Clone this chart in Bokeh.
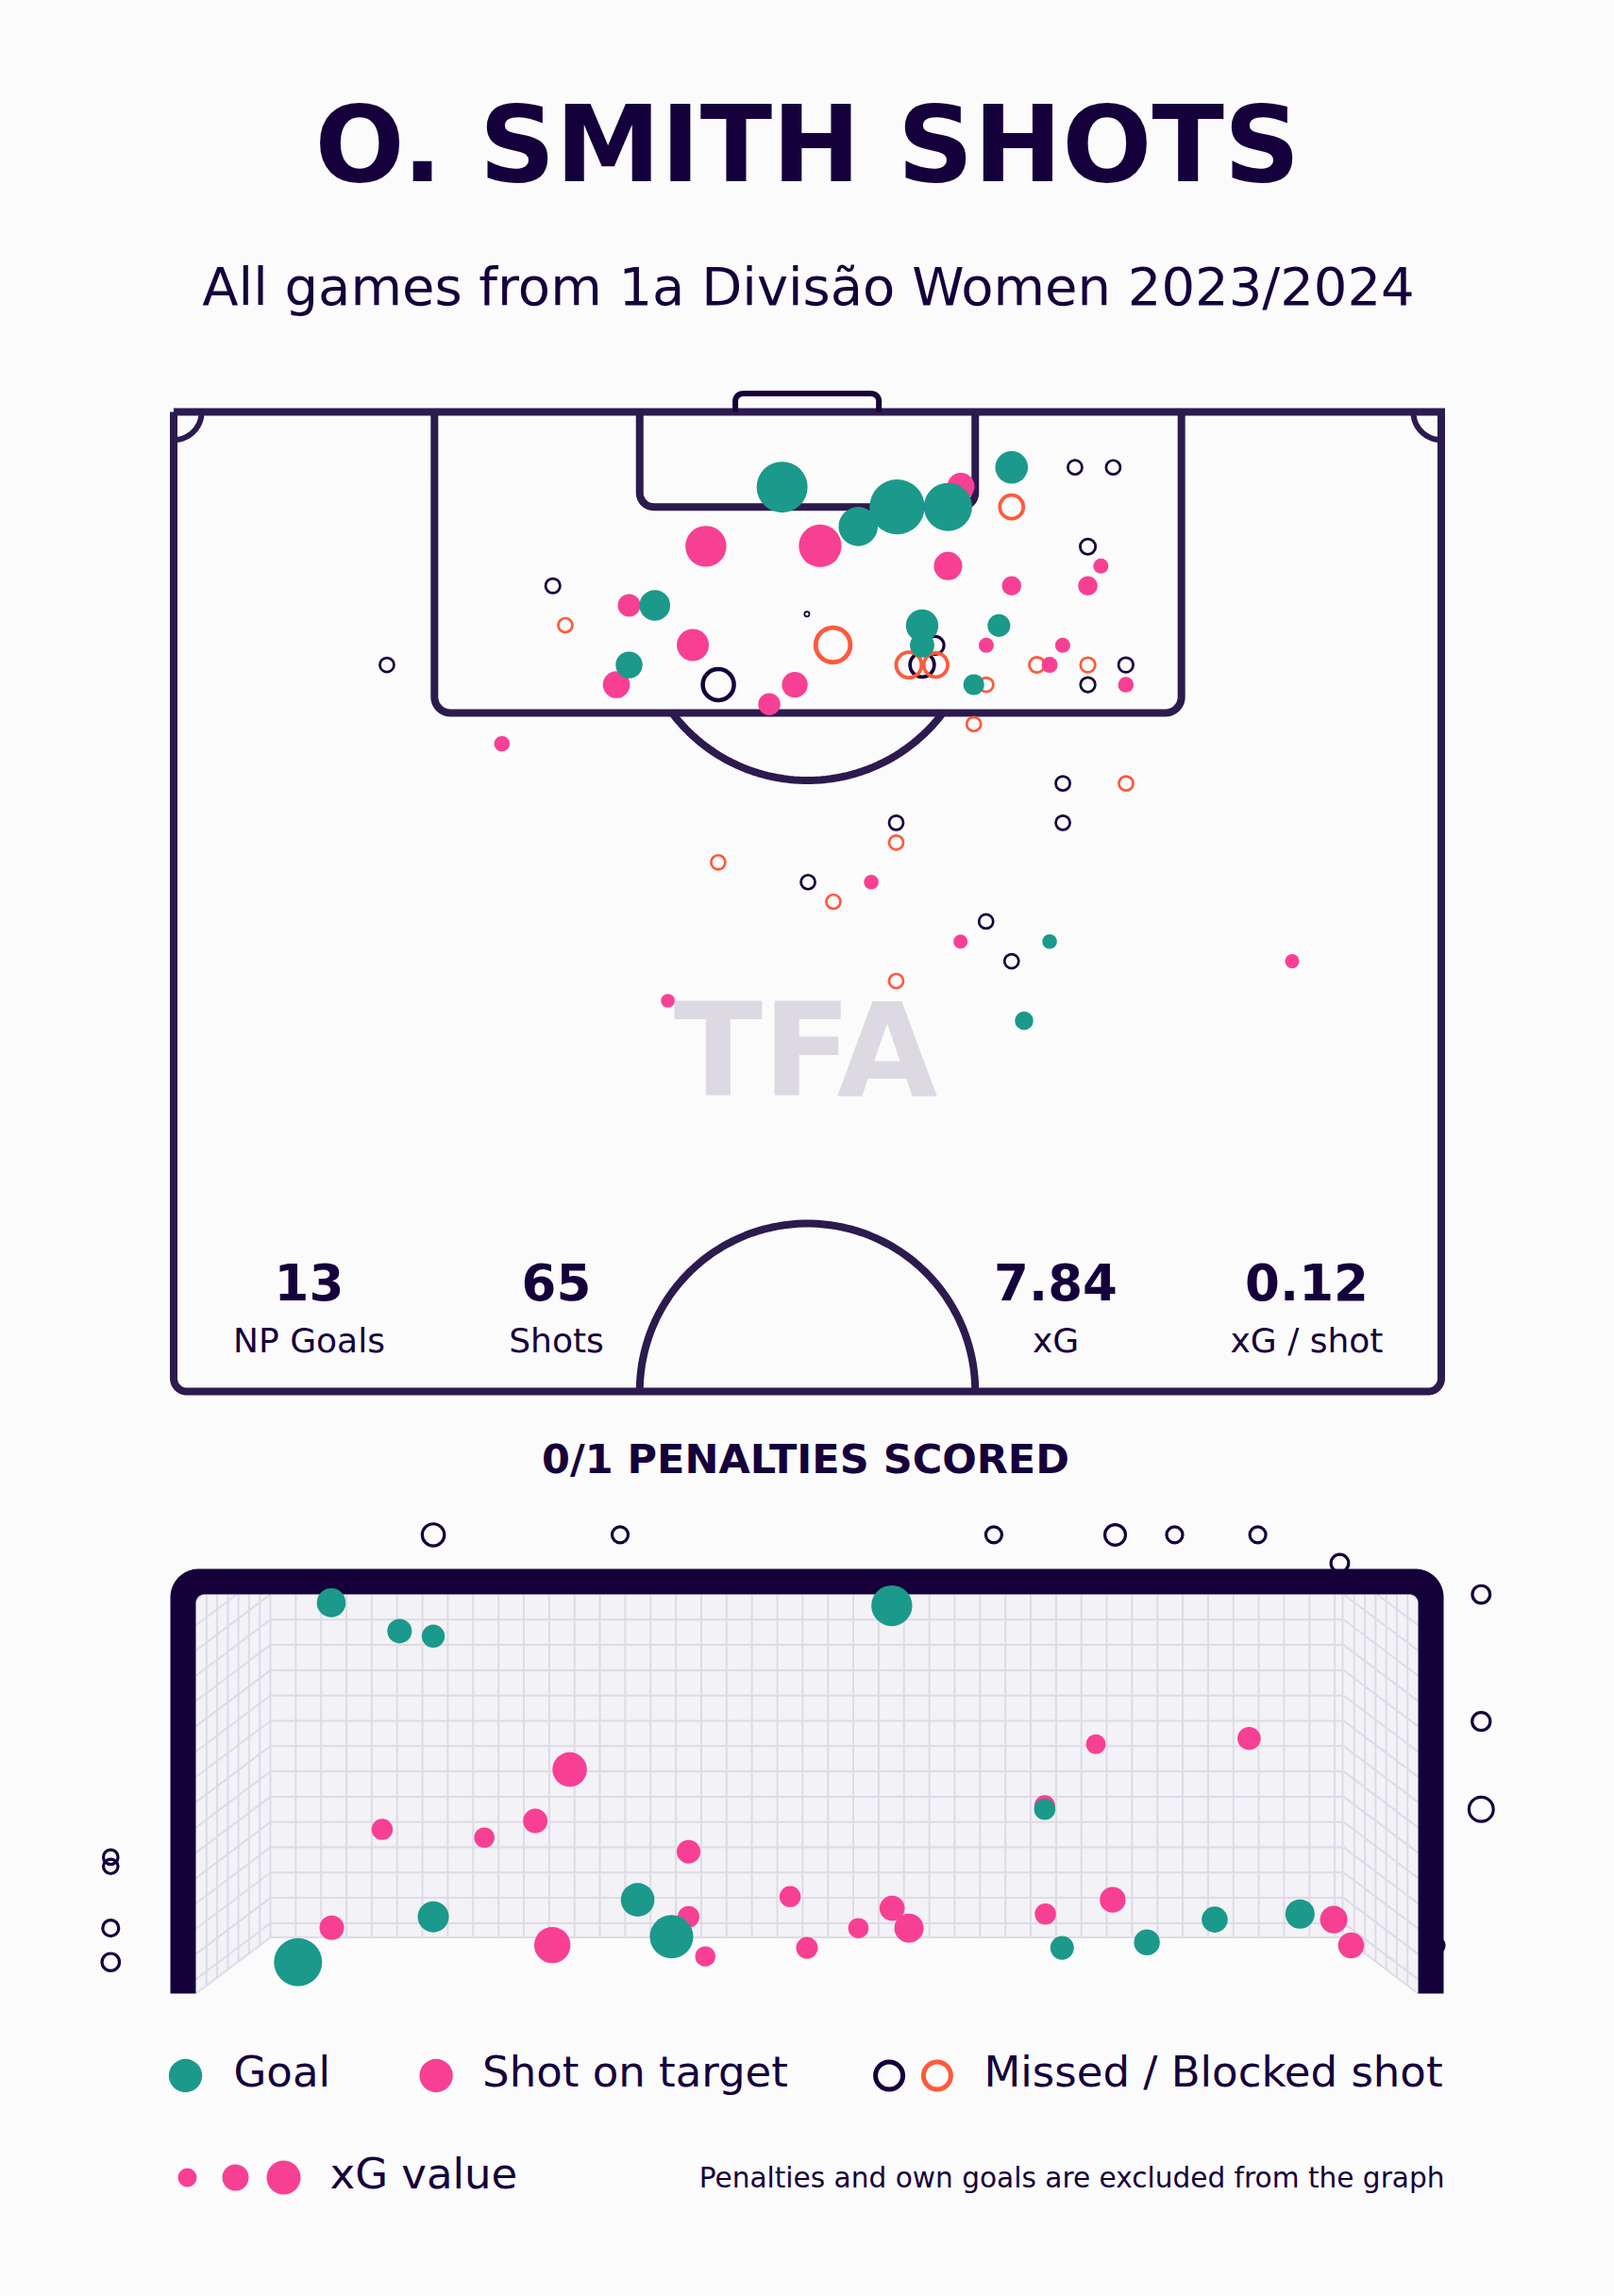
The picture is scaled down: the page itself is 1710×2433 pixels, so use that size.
import numpy as np
from bokeh.plotting import figure
from bokeh.models import Range1d, ColumnDataSource
from bokeh.layouts import column
from bokeh.embed import file_html
from bokeh.resources import INLINE
from bokeh.core.properties import value

# ---------------- texts ----------------
title_text = "O. SMITH SHOTS"
subtitle_text = "All games from 1a Divisão Women 2023/2024"
stat_values = ["13", "65", "7.84", "0.12"]
stat_names = ["NP Goals", "Shots", "xG", "xG / shot"]
penalty_text = "0/1 PENALTIES SCORED"
legend_names = ["Goal", "Shot on target", "Missed / Blocked shot"]
xg_legend_label = "xG value"
footnote = "Penalties and own goals are excluded from the graph"
watermark = "TFA"

# ---------------- pitch shots (metres from left touchline / from goal line) ----------------
shot_x = [32.64, 28.55, 34.68, 20.34, 21.01, 11.44, 24.43, 25.81, 33.97, 27.85,
          35.37, 24.43, 23.75, 29.22, 31.95, 33.32, 17.61, 44.95, 48.35, 50.40,
          42.23, 36.72, 38.81, 41.54, 44.95, 49.04, 49.74, 41.54, 44.95, 49.04,
          40.15, 40.15, 40.84, 39.44, 40.15, 40.88, 44.27, 43.59, 47.69, 46.31,
          46.99, 49.04, 51.08, 42.92, 43.59, 49.04, 51.08, 42.92, 47.70, 51.09,
          38.76, 47.70, 38.76, 29.21, 34.03, 37.42, 35.39, 43.58, 42.21, 46.99,
          44.95, 60.00, 38.76, 26.51, 45.62]
shot_y = [4.03, 7.20, 7.18, 9.32, 11.43, 13.56, 10.37, 10.37, 10.84, 12.49,
          12.49, 13.56, 14.62, 14.62, 15.67, 14.62, 17.79, 2.97, 2.97, 2.97,
          4.00, 6.14, 5.09, 5.09, 5.09, 7.22, 8.26, 8.26, 9.32, 9.32,
          11.45, 12.51, 12.51, 13.56, 13.56, 13.56, 11.45, 12.51, 12.51, 13.56,
          13.56, 13.56, 13.56, 14.62, 14.62, 14.62, 14.62, 16.73, 19.91, 19.91,
          22.02, 22.02, 23.08, 24.14, 25.20, 25.20, 26.25, 27.31, 28.39, 28.39,
          29.44, 29.44, 30.50, 31.56, 32.63]
shot_xg = [0.54, 0.35, 0.38, 0.044, 0.042, 0.042, 0.107, 0.197, 0.005, 0.215,
           0.249, 0.150, 0.152, 0.202, 0.102, 0.139, 0.051, 0.222, 0.042, 0.042,
           0.156, 0.321, 0.633, 0.483, 0.116, 0.049, 0.048, 0.167, 0.079, 0.079,
           0.220, 0.125, 0.067, 0.135, 0.122, 0.120, 0.107, 0.048, 0.048, 0.049,
           0.054, 0.045, 0.045, 0.090, 0.042, 0.045, 0.051, 0.042, 0.042, 0.042,
           0.042, 0.042, 0.042, 0.042, 0.042, 0.045, 0.042, 0.042, 0.042, 0.045,
           0.042, 0.042, 0.042, 0.040, 0.071]
shot_result = ["goal", "saved", "saved", "missed", "blocked", "missed", "saved", "goal", "missed", "saved",
               "blocked", "goal", "saved", "missed", "saved", "saved", "saved", "goal", "missed", "missed",
               "saved", "goal", "goal", "goal", "blocked", "missed", "saved", "saved", "saved", "saved",
               "goal", "goal", "missed", "blocked", "missed", "blocked", "goal", "saved", "saved", "blocked",
               "saved", "blocked", "missed", "goal", "blocked", "missed", "saved", "blocked", "missed", "blocked",
               "missed", "missed", "blocked", "blocked", "missed", "saved", "blocked", "missed", "saved", "goal",
               "missed", "saved", "blocked", "saved", "goal"]

# ---------------- goal-mouth view (metres from left post / height) ----------------
goal_x = [1.422, 2.541, 4.779, 5.506, 5.862, 6.360, 6.851, 7.698, -0.510, -0.510,
          -0.510, -0.510, 7.698, 7.698, 7.428,
          0.811, 1.220, 1.422, 4.168, 2.646, 1.422, 0.612, 2.849, 5.084, 5.188,
          5.696, 6.102, 6.613,
          2.239, 1.116, 1.728, 2.033, 2.951, 3.559, 0.814, 2.135, 2.951, 3.051,
          3.660, 5.390, 6.308, 5.084, 3.968, 4.170, 4.271, 5.088, 5.491, 6.815, 6.919]
goal_z = [2.803, 2.803, 2.803, 2.803, 2.803, 2.803, 2.630, 2.439, 0.834, 0.777,
          0.400, 0.192, 1.663, 1.126, 0.294,
          2.388, 2.215, 2.184, 2.370, 0.573, 0.469, 0.192, 0.348, 1.126, 0.279,
          0.313, 0.452, 0.486,
          1.369, 1.003, 0.953, 1.055, 0.867, 0.592, 0.402, 0.296, 0.469, 0.227,
          0.279, 1.524, 1.559, 1.149, 0.400, 0.521, 0.400, 0.486, 0.573, 0.452, 0.294]
goal_xg = [0.040, 0.004, 0.004, 0.028, 0.004, 0.004, 0.010, 0.010, 0.001, 0.001,
           0.004, 0.009, 0.012, 0.063, 0.004,
           0.125, 0.065, 0.049, 0.391, 0.211, 0.163, 0.620, 0.464, 0.033, 0.055,
           0.081, 0.084, 0.131,
           0.231, 0.033, 0.026, 0.065, 0.055, 0.033, 0.065, 0.270, 0.037, 0.025,
           0.037, 0.022, 0.051, 0.029, 0.026, 0.072, 0.131, 0.033, 0.081, 0.102, 0.084]
goal_result = ["missed"] * 15 + ["goal"] * 13 + ["saved"] * 21

# ---------------- style ----------------
W = 1710
BG = "#fbfbfc"
INK = "#16003b"
LINE = "#2d1a4e"
FRAME = "#160039"
TEAL = "#1b998b"
PINK = "#f74093"
ORANGE = "#fd5a3b"
NET_BG = "#f3f2f6"
NET_LINE = "#dedbe5"
WM = "#dcd9e3"
SANS = value("DejaVu Sans")

HEAD_H, PITCH_H, GOAL_H, LEG_H = 400, 1100, 640, 293
MID = 0.36  # text is placed by its vertical centre: shift from baseline in em


def base_fig(h, xr, yr):
    p = figure(width=W, height=h, x_range=xr, y_range=yr, output_backend="svg",
               toolbar_location=None, x_axis_location=None, y_axis_location=None,
               min_border=0, background_fill_color=BG, border_fill_color=BG,
               outline_line_color=None)
    p.grid.visible = False
    return p


def arc(cx, cy, r, a0, a1, n=32):
    t = np.linspace(a0, a1, n)
    return list(cx + r * np.cos(t)), list(cy + r * np.sin(t))


def txt(p, xs, ys, texts, fs, align="center", bold=False, color=INK):
    p.text(x=xs, y=ys, text=texts, text_font=SANS, text_font_style="bold" if bold else "normal",
           text_font_size=f"{fs}px", text_color=color, text_align=align, text_baseline="middle")


# ---------------- header ----------------
head = base_fig(HEAD_H, Range1d(0, W), Range1d(HEAD_H, 0))
txt(head, [855], [193 - MID * 112], [title_text], 112, bold=True)
txt(head, [856], [323 - MID * 56], [subtitle_text], 56)

# ---------------- pitch ----------------
P_X0, P_SX, P_Y0, P_SY, P_TOP = 183.5, 19.75, 436.0, 19.771, 400.0


def pmx(px):
    return (px - P_X0) / P_SX


def pmy(py):
    return (py - P_Y0) / P_SY


pitch = base_fig(PITCH_H, Range1d(pmx(0), pmx(W)), Range1d(pmy(P_TOP + PITCH_H), pmy(P_TOP)))
L, D = 68.0, 52.5

rc = 0.7
xs, ys = [0.0], [0.0]
ax, ay = arc(rc, D - rc, rc, np.pi, 0.5 * np.pi); xs += ax; ys += ay
ax, ay = arc(L - rc, D - rc, rc, 0.5 * np.pi, 0.0); xs += ax; ys += ay
xs += [L, 0.0]; ys += [0.0, 0.0]
pitch.line(xs, ys, line_width=8, line_color=LINE, line_join="miter")


def box(x0, x1, depth, r):
    bx, by = [x0], [0.0]
    ax, ay = arc(x0 + r, depth - r, r, np.pi, 0.5 * np.pi); bx += ax; by += ay
    ax, ay = arc(x1 - r, depth - r, r, 0.5 * np.pi, 0.0); bx += ax; by += ay
    bx += [x1]; by += [0.0]
    return bx, by


bx, by = box(13.99, 54.06, 16.13, 0.85)
pitch.line(bx, by, line_width=8, line_color=LINE, line_join="round")
bx, by = box(25.0, 43.0, 5.09, 0.75)
pitch.line(bx, by, line_width=8, line_color=LINE, line_join="round")
gr = 0.4
gx_, gy_ = [30.13], [0.0]
ax, ay = arc(30.13 + gr, -0.98 + gr, gr, np.pi, 1.5 * np.pi); gx_ += ax; gy_ += ay
ax, ay = arc(37.83 - gr, -0.98 + gr, gr, 1.5 * np.pi, 2 * np.pi); gx_ += ax; gy_ += ay
gx_ += [37.83]; gy_ += [0.0]
pitch.line(gx_, gy_, line_width=6, line_color=FRAME)
a0 = np.arcsin((16.13 - 10.65) / 9.1)
ax, ay = arc(34.0, 10.65, 9.1, a0, np.pi - a0, 60)
pitch.line(ax, ay, line_width=8, line_color=LINE)
ax, ay = arc(34.0, D, 9.0, np.pi, 2 * np.pi, 80)
pitch.line(ax, ay, line_width=8, line_color=LINE)
ax, ay = arc(0.0, 0.0, 1.5, 0.0, 0.5 * np.pi)
pitch.line(ax, ay, line_width=6, line_color=LINE)
ax, ay = arc(L, 0.0, 1.5, 0.5 * np.pi, np.pi)
pitch.line(ax, ay, line_width=6, line_color=LINE)

txt(pitch, [pmx(853)], [pmy(1163 - MID * 138)], [watermark], 138, bold=True, color=WM)

stat_cx = [327, 589, 1118, 1384]
txt(pitch, [pmx(c) for c in stat_cx], [pmy(1377 - MID * 53)] * 4, stat_values, 53, bold=True)
txt(pitch, [pmx(c) for c in stat_cx], [pmy(1433 - MID * 36)] * 4, stat_names, 36)

K_P = 36.7
sx = np.array(shot_x); sy = np.array(shot_y); sxg = np.array(shot_xg); sres = np.array(shot_result)
style = {"missed": (None, INK), "blocked": (None, ORANGE), "saved": (PINK, None), "goal": (TEAL, None)}
for res in ["missed", "blocked", "saved", "goal"]:
    m = sres == res
    r = K_P * np.sqrt(sxg[m])
    src = ColumnDataSource(dict(x=sx[m], y=sy[m], size=2 * r, lw=1.2 + 0.2 * r))
    fill, line = style[res]
    if fill is None:
        pitch.scatter("x", "y", size="size", source=src, marker="circle", fill_color=None,
                      line_color=line, line_width="lw")
    else:
        pitch.scatter("x", "y", size="size", source=src, marker="circle", fill_color=fill,
                      line_color=None)

# ---------------- goal mouth ----------------
G_X0, G_SX, G_Z0, G_SZ, G_TOP = 207.0, 176.9, 2112.0, 173.4, 1500.0


def gmx(px):
    return (px - G_X0) / G_SX


def gmz(py):
    return (G_Z0 - py) / G_SZ


goal = base_fig(GOAL_H, Range1d(gmx(0), gmx(W)), Range1d(gmz(G_TOP + GOAL_H), gmz(G_TOP)))

net_px = [(207, 1689), (1502, 1689), (1502, 2112), (1422, 2052.5), (286, 2052.5), (207, 2112)]
goal.patch([gmx(a) for a, b in net_px], [gmz(b) for a, b in net_px], fill_color=NET_BG, line_color=None)

segs = []
STEP = 26.8
BACK_L, BACK_R, TOPY, BACK_B = 286.0, 1422.0, 1689.0, 2052.5
k = 1
while TOPY + k * STEP < BACK_B - 3:
    segs.append([(BACK_L, TOPY + k * STEP), (BACK_R, TOPY + k * STEP)])
    k += 1
segs.append([(BACK_L, BACK_B), (BACK_R, BACK_B)])
xv = BACK_L
while xv < BACK_R - 4:
    segs.append([(xv, TOPY), (xv, BACK_B)])
    xv += 26.85
segs.append([(BACK_R, TOPY), (BACK_R, BACK_B)])
DX, DY = 79.0, 59.5
side = []
for kk in range(1, 7):
    x = 207 + kk * DX / 7
    side.append([(x, TOPY), (x, BACK_B + (BACK_L - x) * DY / DX)])
levels = [TOPY + j * STEP for j in range(-2, 14)] + [BACK_B]
for yb in levels:
    ye = yb + DY
    if ye <= TOPY:
        continue
    if yb < TOPY:
        xs0 = BACK_L - (TOPY - yb) * DX / DY
        side.append([(xs0, TOPY), (207, ye)])
    else:
        side.append([(BACK_L, yb), (207, ye)])
for s in side:
    segs.append(s)
    segs.append([(1709 - s[0][0], s[0][1]), (1709 - s[1][0], s[1][1])])
goal.multi_line([[gmx(a) for a, b in s] for s in segs], [[gmz(b) for a, b in s] for s in segs],
                line_color=NET_LINE, line_width=2)

Ro, Ri = 30.0, 9.0
fx, fy = [180.0], [2112.0]
ax, ay = arc(180 + Ro, 1662 + Ro, Ro, np.pi, 1.5 * np.pi); fx += ax; fy += ay
ax, ay = arc(1529 - Ro, 1662 + Ro, Ro, 1.5 * np.pi, 2 * np.pi); fx += ax; fy += ay
fx += [1529.0, 1502.0]; fy += [2112.0, 2112.0]
ax, ay = arc(1502 - Ri, 1689 + Ri, Ri, 2 * np.pi, 1.5 * np.pi); fx += ax; fy += ay
ax, ay = arc(207 + Ri, 1689 + Ri, Ri, 1.5 * np.pi, np.pi); fx += ax; fy += ay
fx += [207.0]; fy += [2112.0]
goal.patch([gmx(a) for a in fx], [gmz(b) for b in fy], fill_color=FRAME, line_color=None)

txt(goal, [gmx(853)], [gmz(1561 - MID * 43)], [penalty_text], 43, bold=True)

gx = np.array(goal_x); gz = np.array(goal_z); gxg = np.array(goal_xg); gres = np.array(goal_result)
for res in ["missed", "saved", "goal"]:
    m = gres == res
    r = 7 + 23.5 * np.sqrt(gxg[m])
    src = ColumnDataSource(dict(x=gx[m], y=gz[m], size=2 * r))
    fill, line = style[res]
    if fill is None:
        goal.scatter("x", "y", size="size", source=src, marker="circle", fill_color=None,
                     line_color=line, line_width=3.2)
    else:
        goal.scatter("x", "y", size="size", source=src, marker="circle", fill_color=fill,
                     line_color=None)

# ---------------- legend ----------------
leg = base_fig(LEG_H, Range1d(0, W), Range1d(2433, 2140))
leg.scatter([196, 461.6], [2199, 2199], size=35.4, marker="circle", fill_color=[TEAL, PINK], line_color=None)
leg.scatter([941.6, 992.4], [2199, 2199], size=29, marker="circle", fill_color=None,
            line_color=[INK, ORANGE], line_width=5)
txt(leg, [247, 510.6, 1042], [2211 - MID * 45] * 3, legend_names, 45, align="left")
leg.scatter([198, 249, 300], [2307] * 3, size=[20, 28, 36], marker="circle", fill_color=PINK, line_color=None)
txt(leg, [349], [2319 - MID * 45], [xg_legend_label], 45, align="left")
txt(leg, [1530], [2318 - MID * 29.6], [footnote], 29.6, align="right")

layout = column(head, pitch, goal, leg, spacing=0)
open("out.html", "w").write(file_html(layout, INLINE))
